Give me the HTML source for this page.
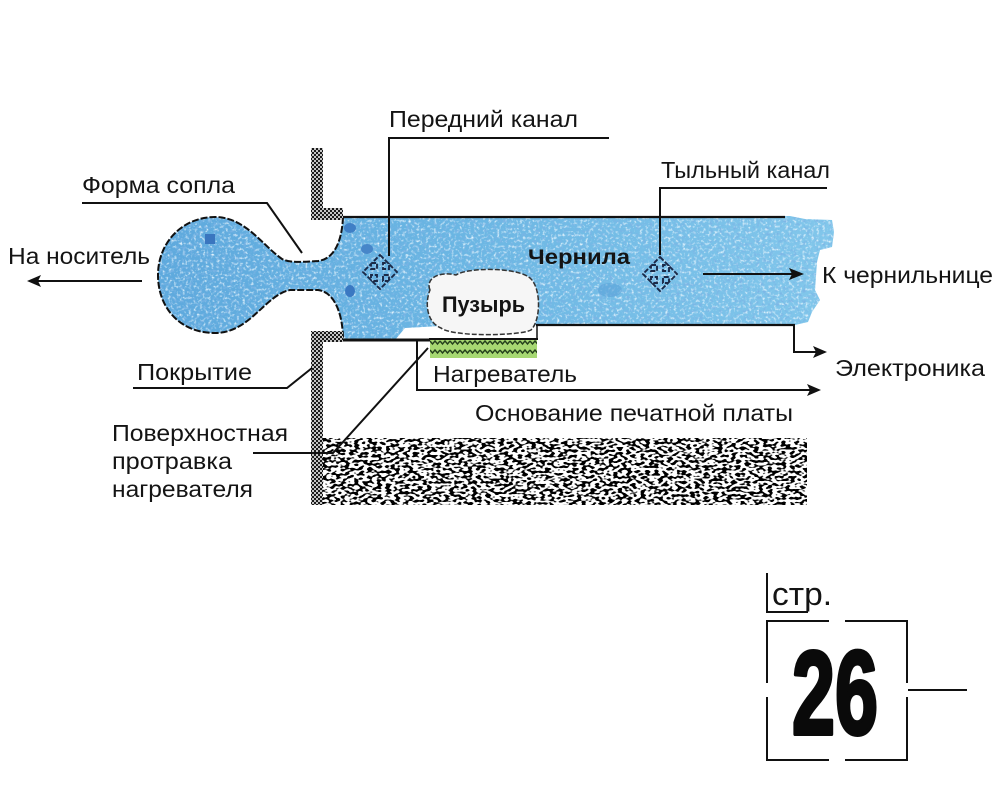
<!DOCTYPE html>
<html><head><meta charset="utf-8"><style>
html,body{margin:0;padding:0;background:#fff;}
svg{display:block;}
text{font-family:"Liberation Sans",sans-serif;fill:#141414;}
</style></head><body>
<svg width="1004" height="797" viewBox="0 0 1004 797" xmlns="http://www.w3.org/2000/svg">
<defs>
  <linearGradient id="bl" x1="0" y1="0" x2="1" y2="0">
    <stop offset="0" stop-color="#5ea9dd"/>
    <stop offset="0.45" stop-color="#6bb6e3"/>
    <stop offset="1" stop-color="#82c7eb"/>
  </linearGradient>
  <filter id="wsp" x="0" y="0" width="100%" height="100%">
    <feTurbulence type="fractalNoise" baseFrequency="0.35" numOctaves="2" seed="5"/>
    <feColorMatrix type="matrix" values="0 0 0 0 0.78  0 0 0 0 0.9  0 0 0 0 0.98  3 0 0 0 -1.55"/>
    <feComposite in2="SourceGraphic" operator="in"/>
  </filter>
  <filter id="dsp" x="0" y="0" width="100%" height="100%">
    <feTurbulence type="fractalNoise" baseFrequency="0.3" numOctaves="2" seed="11"/>
    <feColorMatrix type="matrix" values="0 0 0 0 0.2  0 0 0 0 0.45  0 0 0 0 0.78  3 0 0 0 -1.6"/>
    <feComposite in2="SourceGraphic" operator="in"/>
  </filter>
  <filter id="grain" x="0" y="0" width="100%" height="100%">
    <feTurbulence type="fractalNoise" baseFrequency="0.22 0.38" numOctaves="1" seed="8"/>
    <feColorMatrix type="matrix" values="0 0 0 0 0  0 0 0 0 0  0 0 0 0 0  -14 0 0 0 7.2"/>
    <feComposite in2="SourceGraphic" operator="in"/>
  </filter>
  <pattern id="chk" width="4" height="4" patternUnits="userSpaceOnUse">
    <rect width="4" height="4" fill="#c4c4c4"/>
    <rect width="2" height="2" fill="#1a1a1a"/>
    <rect x="2" y="2" width="2" height="2" fill="#1a1a1a"/>
  </pattern>
  <pattern id="zig" x="430" y="339" width="10" height="9" patternUnits="userSpaceOnUse">
    <rect width="10" height="9" fill="#a6d872"/>
    <polyline points="0,2 2.5,5 5,2 7.5,5 10,2" fill="none" stroke="#24401c" stroke-width="1.4"/>
  </pattern>
  <path id="mv" d="M0,-17 L8,-9 L3,-9 L3,-3 L9,-3 L9,-8 L17,0 L9,8 L9,3 L3,3 L3,9 L8,9 L0,17 L-8,9 L-3,9 L-3,3 L-9,3 L-9,8 L-17,0 L-9,-8 L-9,-3 L-3,-3 L-3,-9 L-8,-9 Z"/>
</defs>

<!-- blue ink channel -->
<path d="M215 217 C245 217 262 245 282 259 C290 263 300 262 318 261 C335 259 342 240 343 217 L790 216 L805 219 L832 220 L834 232 L832 247 L820 250 L817 262 L815 290 L820 300 L812 312 L808 322 L795 325 L540 325 L440 326 L405 328 L395 340 L343 340 C343 315 335 292 318 290 L290 290 C265 295 250 333 215 333 C180 333 158 308 158 275 C158 242 183 217 215 217 Z" fill="url(#bl)"/>
<path d="M215 217 C245 217 262 245 282 259 C290 263 300 262 318 261 C335 259 342 240 343 217 L790 216 L805 219 L832 220 L834 232 L832 247 L820 250 L817 262 L815 290 L820 300 L812 312 L808 322 L795 325 L540 325 L440 326 L405 328 L395 340 L343 340 C343 315 335 292 318 290 L290 290 C265 295 250 333 215 333 C180 333 158 308 158 275 C158 242 183 217 215 217 Z" fill="#000" filter="url(#wsp)"/>
<path d="M215 217 C245 217 262 245 282 259 C290 263 300 262 318 261 C335 259 342 240 343 217 L790 216 L805 219 L832 220 L834 232 L832 247 L820 250 L817 262 L815 290 L820 300 L812 312 L808 322 L795 325 L540 325 L440 326 L405 328 L395 340 L343 340 C343 315 335 292 318 290 L290 290 C265 295 250 333 215 333 C180 333 158 308 158 275 C158 242 183 217 215 217 Z" fill="#000" filter="url(#dsp)"/>
<!-- dark blotches -->
<rect x="205" y="234" width="10" height="10" fill="#3a76bf"/>
<ellipse cx="350" cy="228" rx="6" ry="5" fill="#3f7fc6"/>
<ellipse cx="367" cy="249" rx="6" ry="5" fill="#4786c9"/>
<ellipse cx="350" cy="291" rx="5" ry="6" fill="#3a78c2"/>
<ellipse cx="610" cy="290" rx="12" ry="7" fill="#5aa2d8" opacity="0.6"/>

<!-- outlines of nozzle -->
<path d="M343 217 C342 240 335 259 318 261 C300 262 290 263 282 259 C262 245 245 217 215 217 C183 217 158 242 158 275 C158 308 180 333 215 333 C250 333 265 295 290 290 L318 290 C335 292 343 315 343 340" fill="none" stroke="#111" stroke-width="2" stroke-dasharray="7 2"/>
<line x1="342" y1="217" x2="785" y2="217" stroke="#111" stroke-width="2.2"/>
<line x1="342" y1="340" x2="432" y2="340" stroke="#111" stroke-width="3"/>
<line x1="536" y1="325" x2="795" y2="325" stroke="#111" stroke-width="2.2"/>

<!-- coating -->
<rect x="311" y="148" width="12" height="72" fill="url(#chk)"/>
<rect x="311" y="208" width="32" height="12" fill="url(#chk)"/>
<rect x="311" y="331" width="32" height="11" fill="url(#chk)"/>
<rect x="311" y="331" width="12" height="174" fill="url(#chk)"/>

<!-- substrate -->
<rect x="323" y="438" width="484" height="67" fill="#fff"/>
<rect x="323" y="438" width="484" height="67" fill="#000" filter="url(#grain)"/>

<!-- heater -->
<rect x="430" y="339" width="107" height="19" fill="url(#zig)"/>
<line x1="429" y1="339" x2="538" y2="339" stroke="#111" stroke-width="2"/>
<line x1="537" y1="325" x2="537" y2="340" stroke="#111" stroke-width="1.5"/>

<!-- bubble -->
<path d="M430 290 C425 278 440 271 456 275 C468 267 520 267 531 279 C541 289 541 320 531 330 C520 336 452 337 441 328 C426 322 425 302 430 290 Z" fill="#f6f6f6" stroke="#333" stroke-width="1.5" stroke-dasharray="5 2"/>
<text x="442" y="312" font-size="22" font-weight="bold" textLength="83" lengthAdjust="spacingAndGlyphs">Пузырь</text>

<!-- move icons -->
<g transform="translate(380,272)"><use href="#mv" fill="none" stroke="#1b2a48" stroke-width="1.9" stroke-dasharray="5 1.8"/></g>
<g transform="translate(660,274)"><use href="#mv" fill="none" stroke="#1b2a48" stroke-width="1.9" stroke-dasharray="5 1.8"/></g>

<!-- connectors -->
<g fill="none" stroke="#111" stroke-width="2">
  <polyline points="609,138 389,138 389,256"/>
  <polyline points="827,188 660,188 660,255"/>
  <polyline points="82,203 267,203 302,253"/>
  <line x1="142" y1="281" x2="36" y2="281"/>
  <line x1="703" y1="274" x2="792" y2="274"/>
  <polyline points="794,325 794,352 816,352"/>
  <polyline points="417,340 417,390 810,390"/>
  <polyline points="133,388 287,388 312,368"/>
  <polyline points="253,453 333,453 428,348"/>
</g>
<g fill="#111">
  <polygon points="27,281 41,275 38,281 41,287"/>
  <polygon points="804,274 789,268 792,274 789,280"/>
  <polygon points="827,352 813,346 816,352 813,358"/>
  <polygon points="821,390 807,384 810,390 807,396"/>
</g>

<!-- labels -->
<text x="389" y="127" font-size="23" textLength="189" lengthAdjust="spacingAndGlyphs">Передний канал</text>
<text x="661" y="178" font-size="23" textLength="169" lengthAdjust="spacingAndGlyphs">Тыльный канал</text>
<text x="82" y="193" font-size="23" textLength="153" lengthAdjust="spacingAndGlyphs">Форма сопла</text>
<text x="8" y="264" font-size="23" textLength="142" lengthAdjust="spacingAndGlyphs">На носитель</text>
<text x="528" y="264" font-size="21" font-weight="bold" textLength="102" lengthAdjust="spacingAndGlyphs">Чернила</text>
<text x="822" y="283" font-size="23" textLength="171" lengthAdjust="spacingAndGlyphs">К чернильнице</text>
<text x="835" y="376" font-size="23" textLength="150" lengthAdjust="spacingAndGlyphs">Электроника</text>
<text x="137" y="380" font-size="23" textLength="115" lengthAdjust="spacingAndGlyphs">Покрытие</text>
<text x="433" y="382" font-size="23" textLength="144" lengthAdjust="spacingAndGlyphs">Нагреватель</text>
<text x="475" y="421" font-size="23" textLength="318" lengthAdjust="spacingAndGlyphs">Основание печатной платы</text>
<text x="112" y="441" font-size="23" textLength="176" lengthAdjust="spacingAndGlyphs">Поверхностная</text>
<text x="112" y="469" font-size="23" textLength="120" lengthAdjust="spacingAndGlyphs">протравка</text>
<text x="112" y="497" font-size="23" textLength="141" lengthAdjust="spacingAndGlyphs">нагревателя</text>

<!-- page number block -->
<g fill="none" stroke="#111" stroke-width="2">
  <polyline points="767,573 767,612 808,612"/>
  <line x1="767" y1="621" x2="829" y2="621"/>
  <line x1="845" y1="621" x2="908" y2="621"/>
  <line x1="767" y1="760" x2="829" y2="760"/>
  <line x1="845" y1="760" x2="908" y2="760"/>
  <line x1="767" y1="620" x2="767" y2="683"/>
  <line x1="767" y1="697" x2="767" y2="761"/>
  <line x1="907" y1="620" x2="907" y2="683"/>
  <line x1="907" y1="697" x2="907" y2="761"/>
  <line x1="908" y1="690" x2="967" y2="690"/>
</g>
<text x="772" y="605" font-size="32" textLength="60" lengthAdjust="spacingAndGlyphs">стр.</text>
<text x="792" y="734" font-size="119" font-weight="bold" textLength="86" lengthAdjust="spacingAndGlyphs" style="fill:#0a0a0a;stroke:#0a0a0a;stroke-width:4;stroke-linejoin:round;">26</text>
</svg>
</body></html>
